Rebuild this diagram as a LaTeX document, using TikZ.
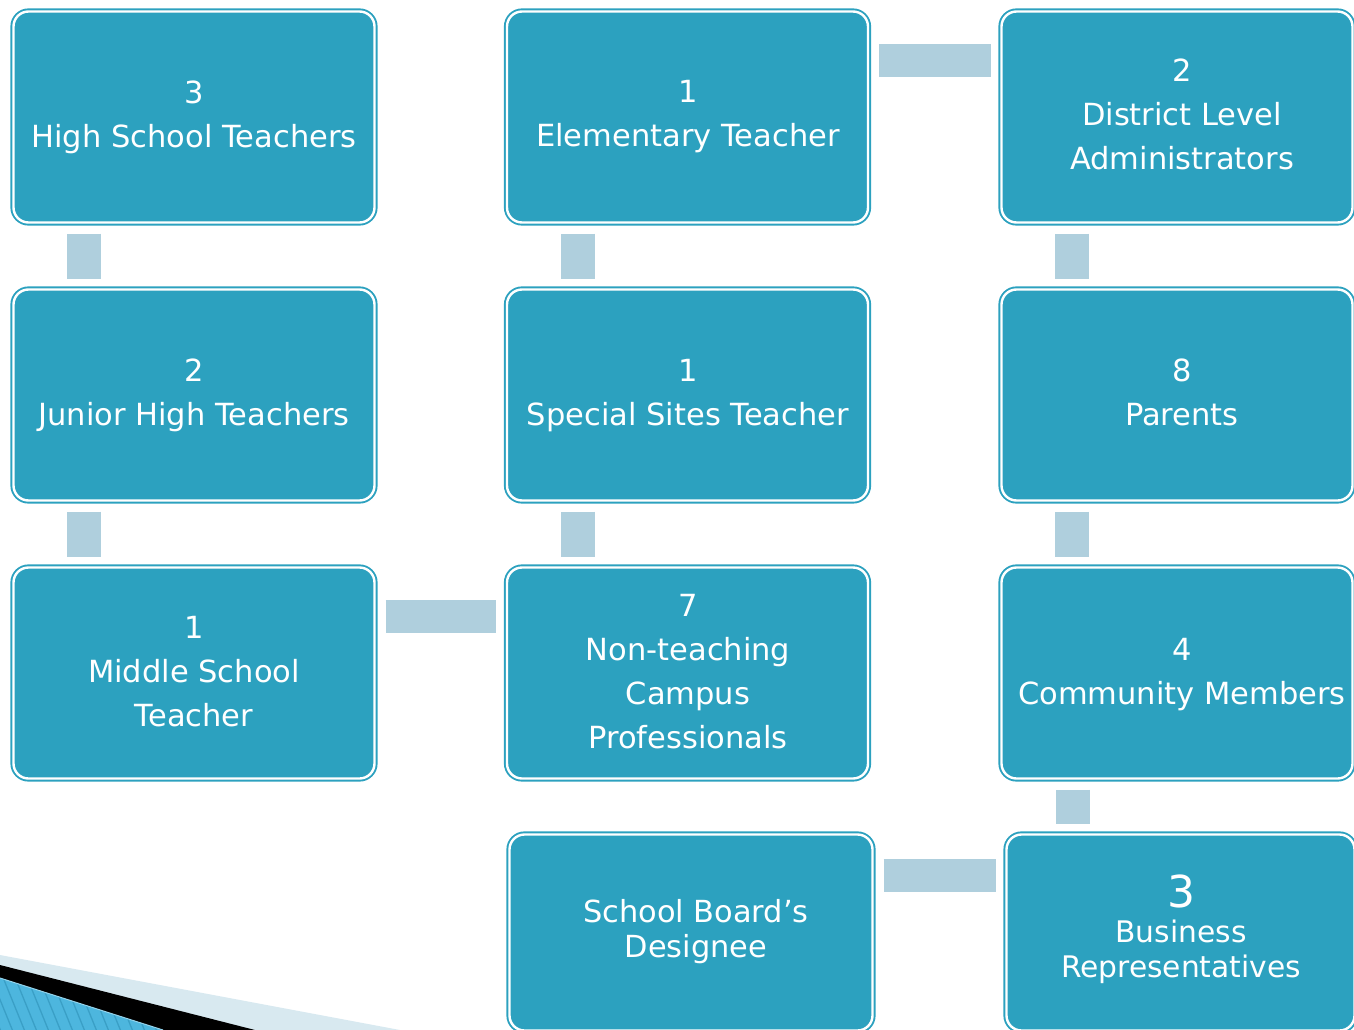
\documentclass[tikz,border=0pt]{standalone}
\usepackage{fontspec}
\setmainfont{DejaVu Sans}
\definecolor{tealbox}{HTML}{2CA1BF}
\definecolor{connc}{HTML}{AFCFDD}
\definecolor{bandlight}{HTML}{D8E9F0}
\definecolor{bandblue}{HTML}{4DB6DE}
\definecolor{stripec}{HTML}{3A9FC6}
\begin{document}
\begin{tikzpicture}[x=1pt,y=-1pt,
  box/.style={rectangle, rounded corners=15pt, fill=tealbox, draw=tealbox,
    double=white, double distance=2.4pt, line width=1.9pt, outer sep=0pt, inner sep=0pt},
  stdbox/.style={box, minimum width=361pt, minimum height=211pt},
  rbox/.style={box, minimum width=351pt, minimum height=211pt},
  lbl/.style={text=white, align=center, font=\fontsize{30.5}{44}\selectfont, inner sep=0pt},
  vconn/.style={draw=connc, line width=34pt, shorten <=11pt, shorten >=11pt},
  hconn/.style={draw=connc, line width=33pt, shorten <=11pt, shorten >=11pt}]
\path[use as bounding box] (0,0) rectangle (1354,1030);
\clip (0,0) rectangle (1354,1030);

% bottom-left decoration
\fill[bandlight] (0,955) -- (400,1030) -- (0,1030) -- cycle;
\fill[black] (0,965) -- (255,1030) -- (0,1030) -- cycle;
\fill[bandblue] (0,978) -- (163,1030) -- (0,1030) -- cycle;
\begin{scope}
  \clip (0,978) -- (163,1030) -- (0,1030) -- cycle;
  \foreach \i in {-6,...,16} \draw[stripec, line width=1.3pt] (\i*12,970) -- ++(26,64);
\end{scope}
\draw[color=bandblue!60!white, line width=1pt] (0,978) -- (163,1030);

% boxes
\node[stdbox] (b1) at (194,117) {};
\node[stdbox] (b2) at (687.5,117) {};
\node[rbox]   (b3) at (1177,117) {};
\node[stdbox] (b4) at (194,395) {};
\node[stdbox] (b5) at (687.5,395) {};
\node[rbox]   (b6) at (1177,395) {};
\node[stdbox] (b7) at (194,673) {};
\node[stdbox] (b8) at (687.5,673) {};
\node[rbox]   (b9) at (1177,673) {};
\node[box, minimum width=363pt, minimum height=196pt] (b11) at (691,932.5) {};
\node[box, minimum width=348pt, minimum height=196pt] (b12) at (1180.5,932.5) {};

% connectors
\draw[vconn] ([xshift=70.5pt]b1.south west) -- ([xshift=70.5pt]b4.north west);
\draw[vconn] ([xshift=70.5pt]b4.south west) -- ([xshift=70.5pt]b7.north west);
\draw[vconn] ([xshift=70.5pt]b2.south west) -- ([xshift=70.5pt]b5.north west);
\draw[vconn] ([xshift=70.5pt]b5.south west) -- ([xshift=70.5pt]b8.north west);
\draw[vconn] ([xshift=70.5pt]b3.south west) -- ([xshift=70.5pt]b6.north west);
\draw[vconn] ([xshift=70.5pt]b6.south west) -- ([xshift=70.5pt]b9.north west);
\coordinate (c9) at ([xshift=71pt]b9.south west);
\draw[vconn] (c9) -- (c9 |- b12.north);
\draw[hconn] ([yshift=-49pt]b2.north east) -- ([yshift=-49pt]b3.north west);
\draw[hconn] ([yshift=-49pt]b7.north east) -- ([yshift=-49pt]b8.north west);
\draw[hconn] ([yshift=-41pt]b11.north east) -- ([yshift=-41pt]b12.north west);

% labels
\node[lbl] (t1) at (194,117) {3\\High School Teachers};
\node[lbl] (t2) at (688,117) {1\\Elementary Teacher};
\node[lbl] (t3) at (1182,114) {2\\District Level\\Administrators};
\node[lbl] (t4) at (194,395) {2\\Junior High Teachers};
\node[lbl] (t5) at (688,395.5) {1\\Special Sites Teacher};
\node[lbl] (t6) at (1182,392) {8\\Parents};
\node[lbl] (t7) at (194,672) {1\\Middle School\\Teacher};
\node[lbl] (t8) at (688,671.5) {7\\Non-teaching\\Campus\\Professionals};
\node[lbl] (t9) at (1182,675) {4\\Community Members};
\node[lbl, font=\fontsize{30.4}{35}\selectfont] (t10) at (696,931.5) {School Board’s\\Designee};
\node[lbl, font=\fontsize{29.7}{35}\selectfont] (t11) at (1181,929.5) {{\fontsize{44}{44}\selectfont 3}\\Business\\Representatives};
\end{tikzpicture}
\end{document}
